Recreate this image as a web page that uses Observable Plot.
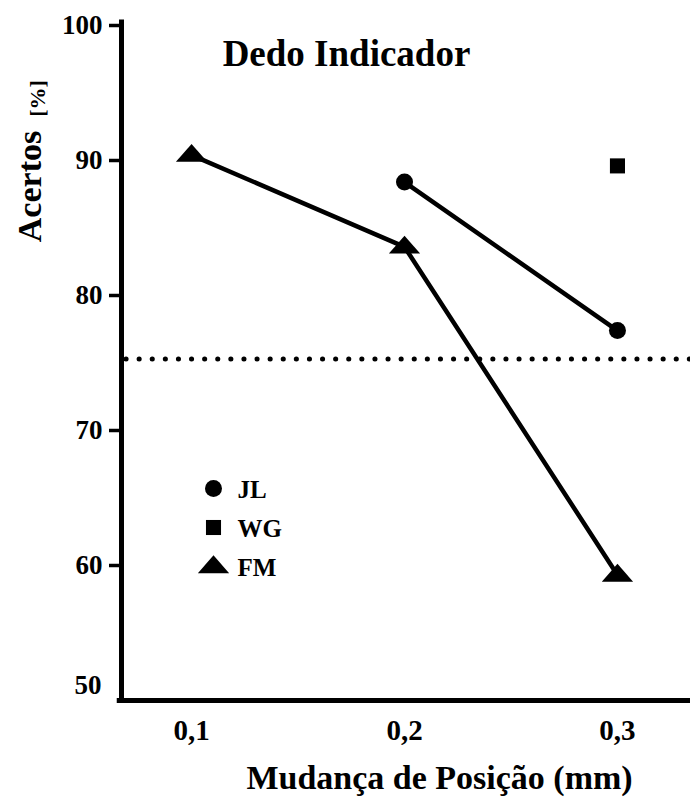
<!DOCTYPE html>
<html><head><meta charset="utf-8">
<script src="https://cdn.jsdelivr.net/npm/d3@7"></script>
<script src="https://cdn.jsdelivr.net/npm/@observablehq/plot@0.6"></script>
<style>body{margin:0;background:#fff} #chart{width:690px;height:798px}</style>
</head><body><div id="chart"></div>
<script>
const positions = [0.1, 0.2, 0.3];
const subjects = ["JL", "WG", "FM"];
const jlValues = [null, 88.4, 77.4];
const wgValues = [null, null, 89.6];
const fmValues = [90.4, 83.6, 59.3];
const chanceLevel = 75.3;
const yTicks = [60, 70, 80, 90, 100];
const yBottomTick = [50];
const xTicks = [0.1, 0.2, 0.3];
const title = "Dedo Indicador";
const xLabel = "Mudança de Posição (mm)";
const yLabel = "Acertos";
const yUnit = "[%]";

const rows = [];
[jlValues, wgValues, fmValues].forEach((vals, s) =>
  vals.forEach((v, i) => { if (v != null) rows.push({subject: subjects[s], x: positions[i], y: v}); }));

const serif = "Liberation Serif, Times New Roman, serif";
const xDomain = [0.0671, 0.3343];
const yDomain = [50, 100];

const flatTriangle = {
  draw(ctx, size) {
    const s = Math.sqrt(size);
    ctx.moveTo(0, -0.6 * s);
    ctx.lineTo(0.84 * s, 0.36 * s);
    ctx.lineTo(-0.84 * s, 0.36 * s);
    ctx.closePath();
  }
};
const symbolMap = {domain: subjects, range: [d3.symbolCircle, d3.symbolSquare, flatTriangle]};
const rBy = {JL: 8.5, WG: 8.5, FM: 10.5};

const txt = {fontFamily: serif, fontWeight: "bold", fill: "black"};

const legendMarks = subjects.flatMap((s, i) => [
  Plot.dot([s], {frameAnchor: "top-left", dx: 92, dy: 463 + i * 39, symbol: d => d, r: rBy[s], fill: "black", stroke: null}),
  Plot.text([s], {frameAnchor: "top-left", dx: 116, dy: 464 + i * 39, text: d => d, textAnchor: "start", lineAnchor: "middle", fontSize: 25, ...txt})
]);

const chart = Plot.plot({
  width: 690, height: 798,
  marginLeft: 121, marginRight: 0, marginTop: 25, marginBottom: 98,
  style: {background: "white", fontFamily: serif, color: "black"},
  x: {domain: xDomain},
  y: {domain: yDomain},
  symbol: symbolMap,
  r: {type: "identity"},
  marks: [
    Plot.ruleY([chanceLevel], {stroke: "black", strokeWidth: 5, strokeDasharray: "0.1,13", strokeDashoffset: -5, strokeLinecap: "round"}),
    Plot.ruleX([xDomain[0]], {y1: 49.8, y2: 100.4, stroke: "black", strokeWidth: 5}),
    Plot.ruleY([yDomain[0]], {x1: xDomain[0] - 0.002, x2: xDomain[1], stroke: "black", strokeWidth: 5}),
    Plot.axisY(yTicks, {tickSize: 12, tickPadding: 7, strokeWidth: 3.5, fontSize: 27, label: null, ...txt}),
    Plot.text(yBottomTick, {x: xDomain[0], y: d => d, dx: -20, dy: -15, text: d => String(d), textAnchor: "end", lineAnchor: "middle", fontSize: 27, ...txt}),
    Plot.axisX(xTicks, {tickSize: 0, tickPadding: 19, tickFormat: d => d.toFixed(1).replace(".", ","), fontSize: 29, label: null, ...txt}),
    Plot.line(rows, {x: "x", y: "y", z: "subject", stroke: "black", strokeWidth: 4.5}),
    Plot.dot(rows, {x: "x", y: "y", symbol: "subject", r: d => rBy[d.subject], fill: "black", stroke: null}),
    ...legendMarks,
    Plot.text([title], {frameAnchor: "top-left", dx: 225, dy: 29, text: d => d, textAnchor: "middle", lineAnchor: "middle", fontSize: 37, ...txt}),
    Plot.text([xLabel], {frameAnchor: "bottom-left", dx: 318, dy: 78, text: d => d, textAnchor: "middle", lineAnchor: "middle", fontSize: 34, ...txt}),
    Plot.text([yLabel], {frameAnchor: "top-left", dx: -91, dy: 161, rotate: -90, text: d => d, textAnchor: "middle", lineAnchor: "middle", fontSize: 34, ...txt}),
    Plot.text([yUnit], {frameAnchor: "top-left", dx: -84, dy: 73, rotate: -90, text: d => d, textAnchor: "middle", lineAnchor: "middle", fontSize: 22, ...txt})
  ]
});
document.getElementById("chart").appendChild(chart);
</script>
</body></html>
